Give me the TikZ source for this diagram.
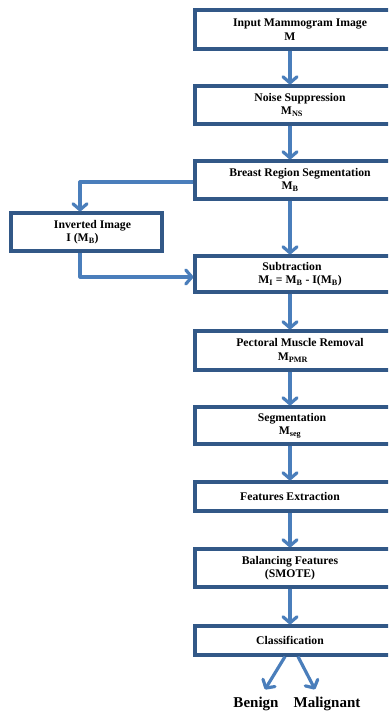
\documentclass[tikz,border=0pt]{standalone}
\usepackage{fontspec}
\setmainfont{Liberation Serif}
\usetikzlibrary{arrows.meta}
\definecolor{boxblue}{RGB}{50,88,135}
\definecolor{arrblue}{RGB}{74,126,187}
\tikzset{
  fbox/.style={draw=boxblue, line width=3.2pt, minimum width=210pt, align=center, inner sep=0pt, font=\bfseries\fontsize{11.7}{13.5}\selectfont},
  lbox/.style={fbox, minimum width=151pt},
  arr/.style={draw=arrblue, line width=3.2pt, line join=round, -{Straight Barb[length=6pt,width=14pt,round]}},
  lab/.style={font=\bfseries\fontsize{15}{17}\selectfont, inner sep=0pt}
}
\begin{document}
\begin{tikzpicture}[x=1pt,y=-1pt]
\useasboundingbox (0,0) rectangle (388,711);
\clip (0,0) rectangle (388,711);
\node[fbox, minimum height=39pt] (b1) at (300,29.5) {Input Mammogram Image\\\hspace*{-20pt}M};
\node[fbox, minimum height=38pt] (b2) at (300,105) {Noise Suppression\\\hspace*{-16pt}M\textsubscript{NS}};
\node[fbox, minimum height=38pt] (b3) at (300,180) {Breast Region Segmentation\\\hspace*{-20pt}M\textsubscript{B}};
\node[lbox, minimum height=38pt] (inv) at (86.5,232) {\hspace*{12pt}Inverted Image\\\hspace*{-8pt}I (M\textsubscript{B})};
\node[fbox, minimum height=36pt] (sub) at (300,274) {\hspace*{-16pt}Subtraction\\M\textsubscript{I} = M\textsubscript{B} - I(M\textsubscript{B})};
\node[fbox, minimum height=39pt] (pmr) at (300,350.5) {Pectoral Muscle Removal\\\hspace*{-14pt}M\textsubscript{PMR}};
\node[fbox, minimum height=37pt] (seg) at (300,425.5) {\hspace*{-16pt}Segmentation\\\hspace*{-20pt}M\textsubscript{seg}};
\node[fbox, minimum height=29pt] (fe) at (300,496.5) {\hspace*{-20pt}Features Extraction};
\node[fbox, minimum height=38pt] (bal) at (300,568) {\hspace*{-20pt}Balancing Features\\\hspace*{-20pt}(SMOTE)};
\node[fbox, minimum height=29pt] (cls) at (300,640.5) {\hspace*{-20pt}Classification};
\node[lab, anchor=base] (ben) at (256,707) {Benign};
\node[lab, anchor=base] (mal) at (327,707) {Malignant};
\coordinate (c1) at (80,182);
\coordinate (c2) at (80,277);
\draw[arr] ([xshift=-10pt]b1.south) -- ([xshift=-10pt]b2.north);
\draw[arr] ([xshift=-10pt]b2.south) -- ([xshift=-10pt]b3.north);
\draw[arr] ([xshift=-10pt]b3.south) -- ([xshift=-10pt]sub.north);
\draw[arr] (b3.west |- c1) -- (c1) -- (c1 |- inv.north);
\draw[arr] (c1 |- inv.south) -- (c2) -- (c2 -| sub.west);
\draw[arr] ([xshift=-10pt]sub.south) -- ([xshift=-10pt]pmr.north);
\draw[arr] ([xshift=-10pt]pmr.south) -- ([xshift=-10pt]seg.north);
\draw[arr] ([xshift=-10pt]seg.south) -- ([xshift=-10pt]fe.north);
\draw[arr] ([xshift=-10pt]fe.south) -- ([xshift=-10pt]bal.north);
\draw[arr] ([xshift=-10pt]bal.south) -- ([xshift=-10pt]cls.north);
\draw[arr] ([xshift=-15pt]cls.south) -- ([xshift=9pt,yshift=7pt]ben.north);
\draw[arr] ([xshift=-2pt]cls.south) -- ([xshift=-12pt,yshift=7pt]mal.north);
\end{tikzpicture}
\end{document}
